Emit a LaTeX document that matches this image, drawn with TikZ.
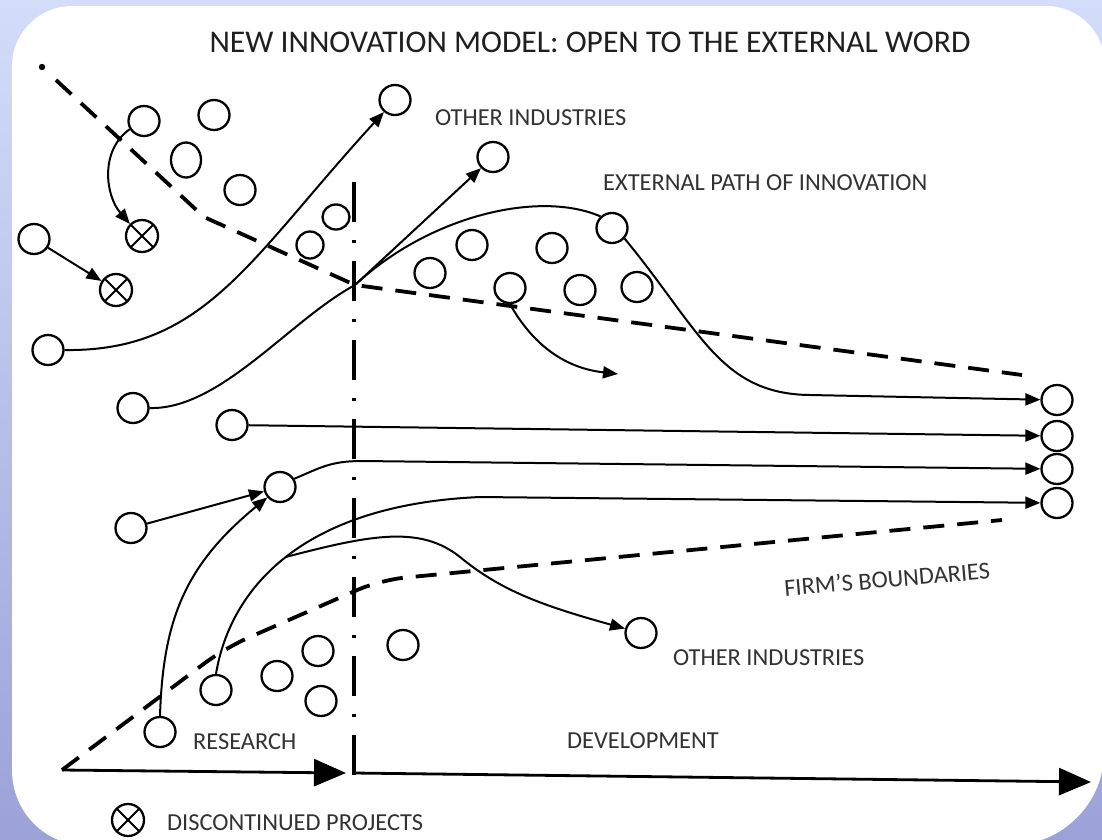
\documentclass[tikz,border=0pt]{standalone}
\usepackage{fontspec}
\setmainfont{Carlito}
\usetikzlibrary{arrows.meta,shapes.geometric}
\definecolor{bgtop}{RGB}{211,221,250}
\definecolor{bgbot}{RGB}{156,161,216}
\definecolor{txt}{RGB}{50,50,50}
\begin{document}
\begin{tikzpicture}[x=1pt,y=-1pt,
  bub/.style={draw, ellipse, line width=2.3pt, minimum width=31pt, minimum height=30pt, inner sep=0pt},
  xbub/.style={draw, circle, line width=2.3pt, minimum size=32pt, inner sep=0pt,
    path picture={\draw[line width=2pt] (path picture bounding box.north west) -- (path picture bounding box.south east)
      (path picture bounding box.north east) -- (path picture bounding box.south west);}},
  cur/.style={line width=2pt},
  arr/.style={cur, -{Triangle[length=15pt,width=12pt]}},
  bigarr/.style={line width=2.8pt, -{Triangle[length=32pt,width=27pt]}},
  bound/.style={line width=3.8pt, dash pattern=on 21pt off 13pt},
  axisv/.style={line width=4.2pt, dash pattern=on 40pt off 18pt on 3pt off 18pt},
  lbl/.style={text=txt, font=\fontsize{24.4}{28}\selectfont, inner sep=0pt, anchor=west},
  ttl/.style={text=black!88, font=\fontsize{31.6}{36}\selectfont, inner sep=0pt}]
% background
\useasboundingbox (0,0) rectangle (1102,839);
\clip (0,0) rectangle (1102,839);
\shade[top color=bgtop, bottom color=bgbot] (0,0) rectangle (1102,839);
\fill[white] (12,66) -- (12,770) .. controls (12,812) and (45,845) .. (85,845) -- (1012,845)
  .. controls (1062,845) and (1104,803) .. (1104,753) -- (1104,61)
  .. controls (1104,31) and (1077,6) .. (1047,6) -- (72,6) .. controls (39,6) and (12,33) .. (12,66) -- cycle;

% title and labels
\node[ttl] (title) at (590,42) {NEW INNOVATION MODEL: OPEN TO THE EXTERNAL WORD};
\node[lbl] (loi1) at (435,118) {OTHER INDUSTRIES};
\node[lbl] (lext) at (603,183) {EXTERNAL PATH OF INNOVATION};
\node[lbl, anchor=center, rotate=5] (lfirm) at (887,579) {FIRM’S BOUNDARIES};
\node[lbl] (loi2) at (673,658) {OTHER INDUSTRIES};
\node[lbl] (lres) at (193,742) {RESEARCH};
\node[lbl] (ldev) at (567,741) {DEVELOPMENT};
\node[lbl] (ldis) at (167,823) {DISCONTINUED PROJECTS};

% bubbles
\node[bub] (c1) at (144,121) {};
\node[bub] (c2) at (214,115) {};
\node[bub, minimum width=30pt, minimum height=35pt] (c3) at (186,160) {};
\node[bub] (c4) at (240,190) {};
\node[xbub] (x1) at (142,236) {};
\node[xbub] (x2) at (116,290) {};
\node[bub] (c5) at (34,239) {};
\node[bub] (c6) at (48,350) {};
\node[bub, minimum width=27pt, minimum height=25pt] (c7) at (336,217) {};
\node[bub, minimum width=27pt, minimum height=27pt] (c8) at (310,245) {};
\node[bub] (top1) at (395,100) {};
\node[bub] (top2) at (493,157) {};
\node[bub] (c9) at (133,408) {};
\node[bub] (c10) at (232,425) {};
\node[bub] (m1) at (430,273) {};
\node[bub] (m2) at (472,245) {};
\node[bub] (m3) at (552,248) {};
\node[bub] (m4) at (510,288) {};
\node[bub] (m5) at (580,290) {};
\node[bub] (m6) at (637,287) {};
\node[bub] (arch) at (612,228) {};
\node[bub] (r1) at (1057,400) {};
\node[bub] (r2) at (1057,436) {};
\node[bub] (r3) at (1057,469) {};
\node[bub] (r4) at (1057,503) {};
\node[bub] (b1) at (131,528) {};
\node[bub] (b2) at (280,487) {};
\node[bub] (b3) at (160,732) {};
\node[bub] (b4) at (216,690) {};
\node[bub] (b5) at (277,676) {};
\node[bub] (b6) at (318,651) {};
\node[bub] (b7) at (321,701) {};
\node[bub] (b8) at (403,645) {};
\node[bub] (ob) at (641,633) {};
\node[xbub] (lx) at (128,820) {};

% coordinates
\coordinate (ix) at (355,285);
\coordinate (d0) at (42,67);
\coordinate (d1) at (56,80);
\coordinate (d2) at (204,217);
\coordinate (d3) at (1022,375);
\coordinate (e0) at (62,770);
\coordinate (e1) at (225,648);
\coordinate (e2) at (380,580);
\coordinate (e3) at (1002,520);
\coordinate (v0) at (354,182);
\coordinate (v1) at (354,778);
\coordinate (a0) at (62,770);
\coordinate (a1) at (346,773);
\coordinate (a2) at (354,773);
\coordinate (a3) at (1091,782);
\coordinate (p1) at (618,374);

% boundaries and axes
\fill (d0) circle (3.2pt);
\draw[bound] (d1) -- (d2) -- (ix) -- (d3);
\draw[bound, rounded corners=25pt] (e0) -- (e1) -- (e2) -- (e3);
\draw[axisv] (v0) -- (v1);
\draw[bigarr] (a0) -- (a1);
\draw[bigarr] (a2) -- (a3);

% paths
\draw[arr] (c1.210) .. controls (100,150) and (105,195) .. (x1.135);
\draw[arr] (c5) -- (x2);
\draw[arr] (c6.east) .. controls (205,352) and (250,258) .. (top1);
\draw[arr] (c9.east) .. controls (220,410) and (290,320) .. (ix) -- (top2);
\draw[cur] (ix) .. controls (430,215) and (540,190) .. (arch.135);
\draw[arr] (arch.-40) .. controls (700,330) and (720,394) .. (810,395) -- (r1);
\draw[arr] (c10) -- (r2);
\draw[arr] (b1) -- (b2);
\draw[arr] (b3.north) .. controls (163,620) and (185,565) .. (b2);
\draw[arr] (b2.30) .. controls (320,468) and (330,461) .. (362,461) -- (r3);
\draw[arr] (b4.north) .. controls (230,590) and (300,505) .. coordinate[pos=0.5] (br) (480,497) -- (r4);
\draw[arr] (br) .. controls (370,535) and (420,525) .. (460,557) .. controls (500,590) and (540,605) .. (ob);
\draw[arr] (m4.south) .. controls (533,345) and (565,368) .. (p1);
\end{tikzpicture}
\end{document}
